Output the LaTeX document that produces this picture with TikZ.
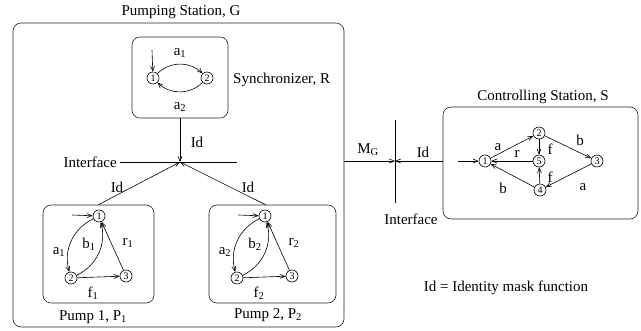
\documentclass[tikz,border=0pt]{standalone}
\usepackage{fontspec}
\setmainfont{Liberation Serif}
\usepackage{tikz}
\usetikzlibrary{positioning,arrows.meta}

\begin{document}
\begin{tikzpicture}[
  font=\fontsize{15}{17}\selectfont,
  x=1pt,
  y=-1pt,
  box/.style={draw=black!85, line width=0.6pt, rounded corners=8pt, inner sep=0pt},
  state/.style={draw, circle, line width=0.6pt, minimum size=12pt, inner sep=0pt,
    font=\fontsize{10}{10}\selectfont},
  tr/.style={-{Straight Barb[length=5pt,width=4pt]}, line width=0.6pt},
  lbl/.style={inner sep=0pt}
]
\useasboundingbox (0,0) rectangle (641,330);

% boxes
\node[box, minimum width=331, minimum height=304] (G) at (178.5,175) {};
\node[box, minimum width=96, minimum height=81] (R) at (180,77.5) {};
\node[box, minimum width=111, minimum height=98] (P1) at (98.5,254) {};
\node[box, minimum width=127, minimum height=98] (P2) at (272.5,254) {};
\node[box, minimum width=195, minimum height=112] (S) at (540.5,163) {};

\node[lbl] (Gtitle) at (181,12) {Pumping Station, G};
\node[lbl] (Stitle) at (543,97) {Controlling Station, S};
\node[lbl, anchor=west] (Rtitle) at (233,80) {Synchronizer, R};
\node[lbl] (P1title) at (93,317) {Pump 1, P\textsubscript{1}};
\node[lbl] (P2title) at (268,315) {Pump 2, P\textsubscript{2}};

% synchronizer
\node[state] (R1) at (153,78) {1};
\node[state] (R2) at (207,78) {2};
\coordinate (R0) at (152,50);
\draw[tr] (R0) -- (R1);
\draw[tr] (R1) to[bend left=45] (R2);
\draw[tr] (R2) to[bend left=45] (R1);
\node[lbl] (Ra1) at (180,53) {a\textsubscript{1}};
\node[lbl] (Ra2) at (180,107) {a\textsubscript{2}};

% pumps
\foreach \p/\x in {1/0,2/166}{
  \node[state] (P\p s1) at (99+\x,216) {1};
  \node[state] (P\p s2) at (71+\x,278) {2};
  \node[state] (P\p s3) at (126+\x,276) {3};
  \coordinate (P\p s0) at (72+\x,215);
  \draw[tr] (P\p s0) -- (P\p s1);
  \draw[tr] (P\p s1) to[bend right=40] (P\p s2);
  \draw[tr] (P\p s2) to[bend right=40] (P\p s1);
  \draw[tr] (P\p s3) -- (P\p s1);
  \draw[tr] (P\p s2) -- (P\p s3);
  \node[lbl] (P\p a) at (59+\x,252) {a\textsubscript{\p}};
  \node[lbl] (P\p b) at (89+\x,244) {b\textsubscript{\p}};
  \node[lbl] (P\p r) at (128+\x,243) {r\textsubscript{\p}};
  \node[lbl] (P\p f) at (93+\x,293) {f\textsubscript{\p}};
}

% interface inside G
\coordinate (ifc) at (180,162);
\coordinate (ifcL) at (120,162);
\coordinate (ifcR) at (237,162);
\draw[line width=0.6pt] (ifcL) -- (ifcR);
\node[lbl, anchor=east] (ifcT) at (117,162) {Interface};
\draw[tr] (R.south) -- (ifc);
\draw[tr] (P1.north) -- (ifc);
\draw[tr] ([xshift=-7pt]P2.north) -- (ifc);
\node[lbl] (IdR) at (197,142) {Id};
\node[lbl] (Id1) at (117,187) {Id};
\node[lbl] (Id2) at (248,187) {Id};

% interface between G and S
\coordinate (mid) at (395,161);
\coordinate (midT) at (395,120);
\coordinate (midB) at (395,203);
\draw[line width=0.6pt] (midT) -- (midB);
\node[lbl] (midL) at (411,219) {Interface};
\draw[tr] (G.east |- mid) -- (mid);
\draw[tr] (S.west |- mid) -- (mid);
\node[lbl] (MG) at (368,150) {M\textsubscript{G}};
\node[lbl] (IdS) at (423,152) {Id};

% controlling station
\node[state] (S1) at (485,161) {1};
\node[state] (S2) at (539,133) {2};
\node[state] (S5) at (539,161) {5};
\node[state] (S4) at (540,190) {4};
\node[state] (S3) at (597,161) {3};
\coordinate (S0) at (458,161);
\draw[tr] (S0) -- (S1);
\draw[tr] (S1) -- (S2);
\draw[tr] (S2) -- (S3);
\draw[tr] (S3) -- (S4);
\draw[tr] (S4) -- (S1);
\draw[tr] (S2) -- (S5);
\draw[tr] (S4) -- (S5);
\draw[tr] (S5) -- (S1);
\node[lbl] (Sa1) at (498,147) {a};
\node[lbl] (Sb1) at (580,140) {b};
\node[lbl] (Sf1) at (550,149) {f};
\node[lbl] (Sr) at (517,154) {r};
\node[lbl] (Sf2) at (550,177) {f};
\node[lbl] (Sb2) at (503,188) {b};
\node[lbl] (Sa2) at (583,187) {a};

\node[lbl] (note) at (506,288) {Id = Identity mask function};
\end{tikzpicture}
\end{document}
